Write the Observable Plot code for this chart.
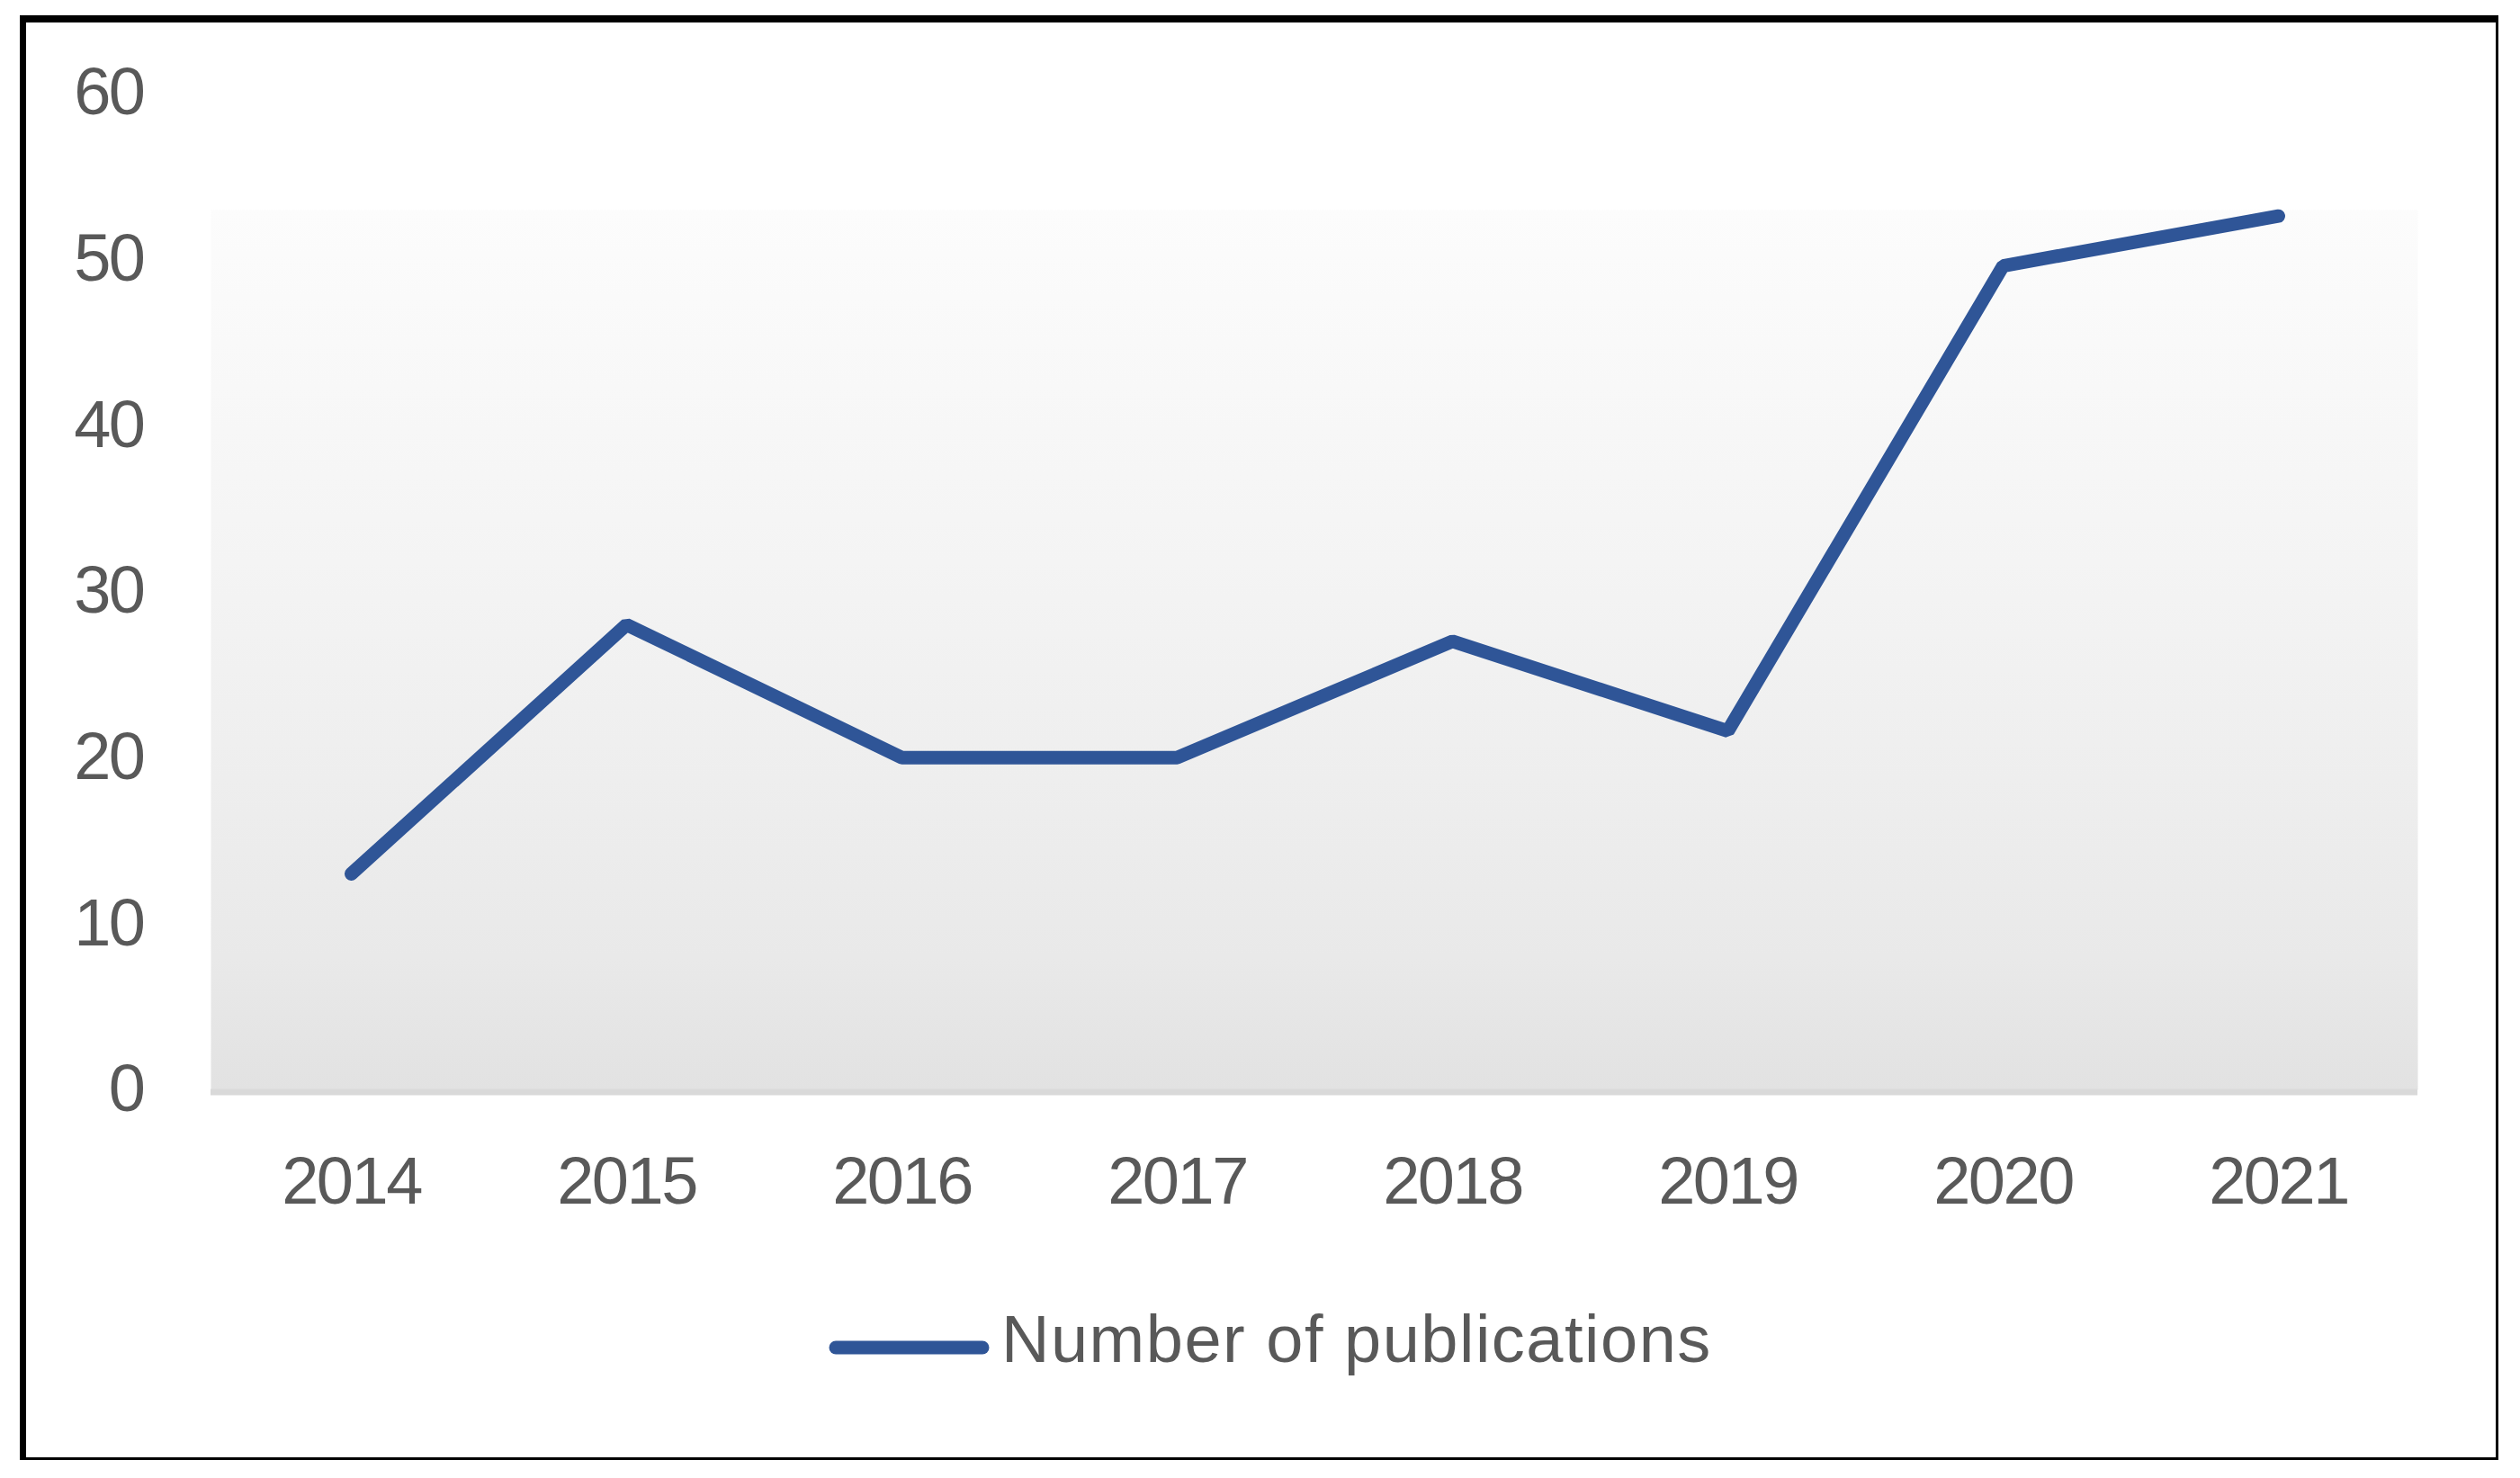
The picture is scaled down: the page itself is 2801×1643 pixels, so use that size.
<!DOCTYPE html>
<html>
<head>
<meta charset="utf-8">
<script src="https://cdn.jsdelivr.net/npm/d3@7"></script>
<script src="https://cdn.jsdelivr.net/npm/@observablehq/plot@0.6"></script>
<style>
  html, body { margin: 0; padding: 0; background: #ffffff; }
  #wrap { position: relative; width: 2801px; height: 1643px; overflow: hidden; font-family: "Liberation Sans", Arial, sans-serif; }
  #frame { position: absolute; left: 22px; top: 17px; width: 2755px; height: 1606px; box-sizing: border-box;
           border-style: solid; border-color: #000; border-width: 8px 3px 3px 7px; pointer-events: none; }
  #chart { position: absolute; left: 0; top: 0; }
  #legend { position: absolute; left: 915px; top: 1452px; height: 74px; }
  #legend svg { position: absolute; left: 0; top: 0; }
  #legend span { position: absolute; left: 198px; top: 0; white-space: nowrap; font-size: 74px; line-height: 74px;
                 color: #595959; letter-spacing: 1.5px; }
</style>
</head>
<body>
<div id="wrap">
  <div id="chart"></div>
  <div id="frame"></div>
  <div id="legend"></div>
</div>
<script>
const years = ["2014", "2015", "2016", "2017", "2018", "2019", "2020", "2021"];
const publications = [13, 28, 20, 20, 27, 21.6, 49.6, 52.6];
const yTicks = [0, 10, 20, 30, 40, 50, 60];
const seriesName = "Number of publications";
const lineColor = "#2f5597";

const data = years.map((year, i) => ({year, value: publications[i]}));

const W = 2801, H = 1380;

const defsMark = () => {
  const defs = d3.create("svg:defs");
  const g = defs.append("linearGradient").attr("id", "plotbg")
    .attr("x1", 0).attr("y1", 0).attr("x2", 0).attr("y2", 1);
  g.append("stop").attr("offset", "0%").attr("stop-color", "#fcfcfc");
  g.append("stop").attr("offset", "40%").attr("stop-color", "#f4f4f4");
  g.append("stop").attr("offset", "85%").attr("stop-color", "#e9e9e9");
  g.append("stop").attr("offset", "100%").attr("stop-color", "#e2e2e2");
  return defs.node();
};

const chart = Plot.plot({
  width: W,
  height: H,
  marginLeft: 234,
  marginRight: 114,
  marginTop: 103,
  marginBottom: 169,
  style: {fontFamily: "Liberation Sans, Arial, sans-serif", fontSize: "74px", color: "#595959", background: "transparent", overflow: "visible"},
  x: {type: "point", domain: years, padding: 0.5, label: null},
  y: {domain: [0, 60], label: null},
  marks: [
    defsMark,
    Plot.frame({fill: "url(#plotbg)", stroke: null, insetTop: 130}),
    Plot.ruleY([0], {stroke: "#d9d9d9", strokeWidth: 7, dy: 2.5}),
    Plot.axisY({ticks: yTicks, tickSize: 0, tickPadding: 75, fontSize: 74, label: null}),
    Plot.axisX({tickSize: 0, tickPadding: 74, fontSize: 74, label: null}),
    Plot.lineY(data, {x: "year", y: "value", stroke: lineColor, strokeWidth: 15,
                      strokeLinecap: "round", strokeLinejoin: "miter"})
  ]
});
chart.querySelectorAll("g[aria-label='x-axis tick label'] text, g[aria-label='y-axis tick label'] text")
  .forEach(t => t.setAttribute("letter-spacing", "-2.5"));
document.getElementById("chart").appendChild(chart);

const legend = document.getElementById("legend");
const sw = d3.create("svg").attr("width", 200).attr("height", 74);
sw.append("line").attr("x1", 14).attr("x2", 177).attr("y1", 46).attr("y2", 46)
  .attr("stroke", lineColor).attr("stroke-width", 15).attr("stroke-linecap", "round");
legend.appendChild(sw.node());
const label = document.createElement("span");
label.textContent = seriesName;
legend.appendChild(label);
</script>
</body>
</html>
